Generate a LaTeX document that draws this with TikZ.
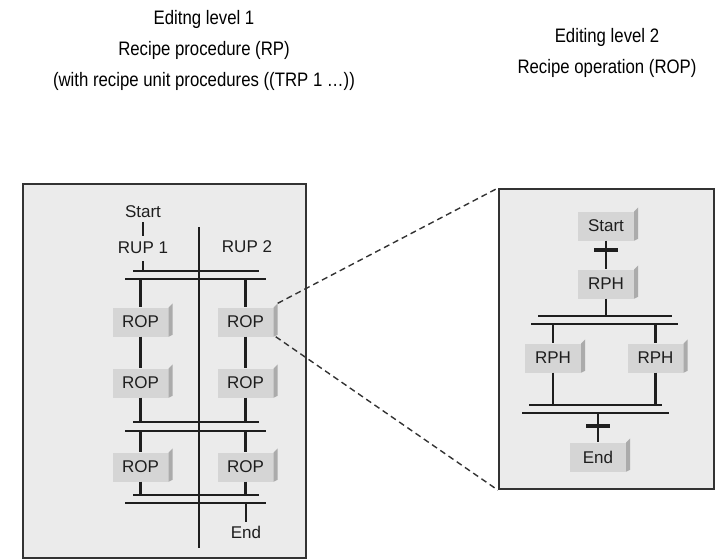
\documentclass[tikz,border=0pt]{standalone}
\usepackage{fontspec}
\setmainfont{Liberation Sans}
\definecolor{panel}{HTML}{EBEBEB}
\definecolor{facecol}{HTML}{D5D5D5}
\definecolor{sidecol}{HTML}{ABABAB}
\definecolor{ink}{HTML}{1E1E1E}
\definecolor{frame}{HTML}{333333}
\tikzset{
  panelbox/.style={draw=frame, line width=2.2pt, fill=panel, inner sep=0pt, anchor=north west},
  facebox/.style={fill=facecol, minimum width=56pt, minimum height=29pt, inner sep=0pt, text=ink, font=\fontsize{17}{20}\selectfont},
  lbl/.style={inner sep=0pt, text=ink, font=\fontsize{17}{20}\selectfont},
  ttl/.style={inner sep=0pt, text=black, font=\fontsize{19.5}{23}\selectfont, anchor=base},
  conn/.style={draw=ink, line width=2.1pt},
  barthin/.style={draw=ink, line width=2.1pt},
  barthick/.style={draw=ink, line width=2.6pt},
  crossbar/.style={draw=ink, line width=3.4pt},
  zoomline/.style={draw=frame, line width=1.4pt, dash pattern=on 6pt off 4pt},
}
\newcommand{\boxside}[1]{\fill[sidecol] (#1.north east) -- ++(4,-4) -- ([shift={(4,-2)}]#1.south east) -- (#1.south east) -- cycle;}
\newcommand{\narrowtxt}[1]{\scalebox{0.86}[1]{#1}}
\begin{document}
\begin{tikzpicture}[x=1pt,y=-1pt]
\useasboundingbox (0,0) rectangle (715,558);

% titles
\node[ttl] (t1a) at (204,24) {\narrowtxt{Editng level 1}};
\node[ttl] (t1b) at (204,55) {\narrowtxt{Recipe procedure (RP)}};
\node[ttl] (t1c) at (204,86) {\narrowtxt{(with recipe unit procedures ((TRP 1 \dots))}};
\node[ttl] (t2a) at (607,42) {\narrowtxt{Editing level 2}};
\node[ttl] (t2b) at (607,73) {\narrowtxt{Recipe operation (ROP)}};

% panels
\node[panelbox, minimum width=283pt, minimum height=374pt] (lp) at (22,183) {};
\node[panelbox, minimum width=215pt, minimum height=300pt] (rp) at (498,188) {};

% ---------- left panel ----------
\node[lbl] (start) at (143,212) {Start};
\node[lbl] (rup1) at (143,248) {RUP 1};
\node[lbl] (rup2) at (247,247) {RUP 2};
\node[lbl] (endl) at (246,532) {End};

\node[facebox] (ra1) at (140.5,322) {ROP}; \boxside{ra1}
\node[facebox] (rb1) at (245.5,322) {ROP}; \boxside{rb1}
\node[facebox] (ra2) at (140.5,383) {ROP}; \boxside{ra2}
\node[facebox] (rb2) at (245.5,383) {ROP}; \boxside{rb2}
\node[facebox] (ra3) at (140.5,467) {ROP}; \boxside{ra3}
\node[facebox] (rb3) at (245.5,467) {ROP}; \boxside{rb3}

\coordinate (vtop) at (199,227);
\coordinate (vbot) at (199,548);
\coordinate (b1l) at (133,271); \coordinate (b1r) at (259,271);
\coordinate (b2l) at (125,279); \coordinate (b2r) at (266,279);
\coordinate (b3l) at (133,422); \coordinate (b3r) at (259,422);
\coordinate (b4l) at (125,431); \coordinate (b4r) at (266,431);
\coordinate (b5l) at (133,495); \coordinate (b5r) at (259,495);
\coordinate (b6l) at (125,503); \coordinate (b6r) at (266,503);

\draw[conn, shorten <=4pt, shorten >=6pt] (start) -- (rup1);
\draw[conn, shorten <=7pt] (rup1) -- (rup1 |- b1l);
\draw[conn] (vtop) -- (vbot);
\draw[barthin] (b1l) -- (b1r);
\draw[barthick] (b2l) -- (b2r);
\draw[conn] (ra1 |- b2l) -- (ra1);
\draw[conn] (rb1 |- b2l) -- (rb1);
\draw[conn] (ra1) -- (ra2);
\draw[conn] (rb1) -- (rb2);
\draw[conn] (ra2) -- (ra2 |- b3l);
\draw[conn] (rb2) -- (rb2 |- b3l);
\draw[barthin] (b3l) -- (b3r);
\draw[barthick] (b4l) -- (b4r);
\draw[conn] (ra3 |- b4l) -- (ra3);
\draw[conn] (rb3 |- b4l) -- (rb3);
\draw[conn] (ra3) -- (ra3 |- b5l);
\draw[conn] (rb3) -- (rb3 |- b5l);
\draw[barthin] (b5l) -- (b5r);
\draw[barthick] (b6l) -- (b6r);
\draw[conn, shorten >=4pt] (endl |- b6l) -- (endl);

% ---------- right panel ----------
\node[facebox] (sb) at (606,226) {Start}; \boxside{sb}
\node[facebox] (rph0) at (606,284) {RPH}; \boxside{rph0}
\node[facebox] (rph1) at (553,358) {RPH}; \boxside{rph1}
\node[facebox] (rph2) at (655.5,358) {RPH}; \boxside{rph2}
\node[facebox] (endr) at (598,457) {End}; \boxside{endr}

\coordinate (c1l) at (594,250); \coordinate (c1r) at (618,250);
\coordinate (c2l) at (586,426); \coordinate (c2r) at (610,426);
\coordinate (rb1l) at (538,316); \coordinate (rb1r) at (672,316);
\coordinate (rb2l) at (531,324); \coordinate (rb2r) at (678,324);
\coordinate (rb3l) at (529,405); \coordinate (rb3r) at (662,405);
\coordinate (rb4l) at (522,413); \coordinate (rb4r) at (669,413);

\draw[conn] (sb) -- (rph0);
\draw[crossbar] (c1l) -- (c1r);
\draw[conn] (rph0) -- (rph0 |- rb1l);
\draw[barthin] (rb1l) -- (rb1r);
\draw[barthick] (rb2l) -- (rb2r);
\draw[conn] (rph1 |- rb2l) -- (rph1);
\draw[conn] (rph2 |- rb2l) -- (rph2);
\draw[conn] (rph1) -- (rph1 |- rb3l);
\draw[conn] (rph2) -- (rph2 |- rb3l);
\draw[barthin] (rb3l) -- (rb3r);
\draw[barthick] (rb4l) -- (rb4r);
\draw[conn] (endr |- rb4l) -- (endr);
\draw[crossbar] (c2l) -- (c2r);

% ---------- zoom lines ----------
\draw[zoomline] ([shift={(4,-4)}]rb1.north east) -- (rp.north west);
\draw[zoomline] ([shift={(2,0)}]rb1.south east) -- (rp.south west);
\end{tikzpicture}
\end{document}
